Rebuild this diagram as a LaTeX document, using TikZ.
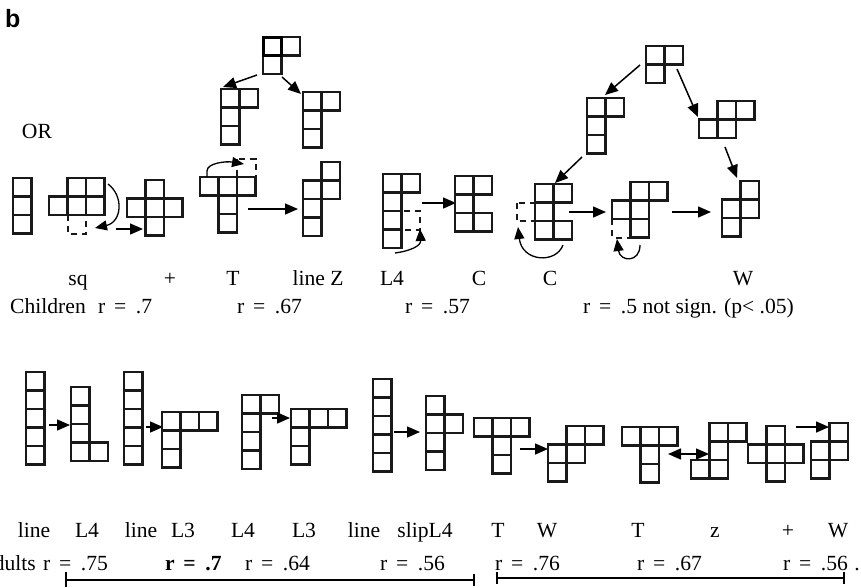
\documentclass[tikz,border=0pt]{standalone}
\usepackage{fontspec}
\setmainfont{Liberation Serif}
\newfontfamily\labfont{Liberation Sans}
\usetikzlibrary{arrows.meta}
\newcommand\poly[3]{\foreach \ci/\cj in {#3}{\draw[cell] ({#1+\ci*18.5},{#2+\cj*18.5}) rectangle ++(18.5,18.5);}}
\newcommand\dcell[2]{\draw[dsh] (#1,#2) rectangle ++(18.5,18.5);}
\newcommand\rv[1]{r\hspace{.4em}=\hspace{.45em}#1}
\begin{document}
\begin{tikzpicture}[x=1pt,y=-1pt,
  cell/.style={draw=black!90,line width=2.1pt},
  dsh/.style={draw=black!90,line width=2pt,dash pattern=on 6pt off 5pt},
  arr/.style={line width=1.5pt,-{Triangle[length=13pt,width=11pt]}},
  carr/.style={line width=1.3pt,-{Triangle[length=12pt,width=10pt]}},
  darr/.style={line width=1.5pt,{Triangle[length=13pt,width=11pt]}-{Triangle[length=13pt,width=11pt]}},
  br/.style={line width=2.4pt},
  lab/.style={font=\fontsize{21.6}{24}\selectfont,inner sep=0pt,anchor=base}]
\useasboundingbox (0,0) rectangle (861,587);
\fill[white] (0,0) rectangle (861,587);

% title
\node[font=\labfont\bfseries\fontsize{25}{28}\selectfont,inner sep=0pt,anchor=base west] (b) at (5,27.5) {b};
\node[lab] (or) at (37,138) {OR};

% ---------- top row ----------
\poly{13}{178}{0/0,0/1,0/2}
\poly{49}{178}{1/0,2/0,0/1,1/1,2/1}
\dcell{67.5}{215}
\draw[carr] (108,184) .. controls (124,196) and (122,222) .. (95,228);
\draw[arr] (116,229) -- (143,229);
\poly{127}{180}{1/0,0/1,1/1,2/1,1/2}

% T family
\poly{263}{37}{0/0,1/0,0/1}
\draw[line width=3pt] (263,37) rectangle ++(18.5,18.5);
\draw[arr] (257,75) -- (223,87);
\draw[arr] (282,77) -- (301,94);
\poly{221}{89}{0/0,1/0,0/1,0/2}
\poly{303}{92}{0/0,1/0,0/1,0/2}
\poly{200}{177}{0/0,1/0,2/0,1/1,1/2}
\dcell{237}{158.5}
\draw[carr] (207,177) -- (207,171) .. controls (207,163) and (226,161) .. (244,164);
\draw[arr] (248,209) -- (298,209);
\poly{303}{162}{1/0,0/1,1/1,0/2,0/3}

% L4 -> C
\poly{383}{174}{0/0,1/0,0/1,0/2,0/3}
\dcell{401.5}{211}
\draw[carr] (395,253) .. controls (410,251) and (421,246) .. (420,229);
\draw[arr] (422,203) -- (456,203);
\poly{455}{176}{0/0,1/0,0/1,0/2,1/2}

% W family
\poly{646}{46}{0/0,1/0,0/1}
\draw[arr] (640,65) -- (605,95);
\draw[arr] (677,69) -- (698,117);
\poly{587}{98}{0/0,1/0,0/1,0/2}
\poly{699}{101}{1/0,2/0,0/1,1/1}
\draw[arr] (582,157) -- (555,183);
\draw[arr] (725,147) -- (737,178);
\poly{535}{184}{0/0,1/0,0/1,0/2,1/2}
\dcell{516.5}{202.5}
\draw[carr] (563,245) .. controls (556,264) and (522,262) .. (518,227);
\draw[arr] (569,212) -- (606,212);
\poly{612}{182}{1/0,2/0,0/1,1/1,1/2}
\dcell{612}{219}
\draw[carr] (640,245) .. controls (640,263) and (620,262) .. (617,239);
\draw[arr] (672,212) -- (711,212);
\poly{722}{181}{1/0,0/1,1/1,0/2}

% top labels
\node[lab] (l1) at (78,285) {sq};
\node[lab] (l2) at (170,285) {+};
\node[lab] (l3) at (233,285) {T};
\node[lab] (l4) at (318,285) {line Z};
\node[lab] (l5) at (392,285) {L4};
\node[lab] (l6) at (479,285) {C};
\node[lab] (l7) at (550,285) {C};
\node[lab] (l8) at (743,285) {W};
\node[lab,anchor=base west] (c0) at (10,313) {Children};
\node[lab,anchor=base west] (c1) at (98,313) {\rv{.7}};
\node[lab,anchor=base west] (c2) at (237,313) {\rv{.67}};
\node[lab,anchor=base west] (c3) at (405,313) {\rv{.57}};
\node[lab,anchor=base west] (c4) at (583,313) {\rv{.5} not sign. (p< .05)};

% ---------- bottom row ----------
\poly{26}{372}{0/0,0/1,0/2,0/3,0/4}
\draw[arr] (49,425) -- (70,425);
\poly{71}{387}{0/0,0/1,0/2,0/3,1/3}
\poly{124}{372}{0/0,0/1,0/2,0/3,0/4}
\draw[arr] (146,427) -- (163,427);
\poly{162}{412}{0/0,1/0,2/0,0/1,0/2}
\poly{242}{395}{0/0,1/0,0/1,0/2,0/3}
\draw[arr] (272,418) -- (290,418);
\poly{291}{409}{0/0,1/0,2/0,0/1,0/2}
\poly{373}{379}{0/0,0/1,0/2,0/3,0/4}
\draw[arr] (394,432) -- (420,432);
\poly{426}{396}{0/0,0/1,1/1,0/2,0/3}
\poly{474}{418}{0/0,1/0,2/0,1/1,1/2}
\draw[arr] (520,449) -- (548,449);
\poly{548}{426}{1/0,2/0,0/1,1/1,0/2}
\poly{622}{427}{0/0,1/0,2/0,1/1,1/2}
\draw[darr] (668,454) -- (709,454);
\poly{691}{423}{1/0,2/0,1/1,0/2,1/2}
\poly{748}{426}{1/0,0/1,1/1,2/1,1/2}
\draw[arr] (796,427) -- (829,427);
\poly{811}{423}{1/0,0/1,1/1,0/2}

% bottom labels
\node[lab] (m1) at (34,537) {line};
\node[lab] (m2) at (87,537) {L4};
\node[lab] (m3) at (141,537) {line};
\node[lab] (m4) at (183,537) {L3};
\node[lab] (m5) at (243,537) {L4};
\node[lab] (m6) at (304,537) {L3};
\node[lab] (m7) at (364,537) {line};
\node[lab] (m8) at (425,537) {slipL4};
\node[lab] (m9) at (498,537) {T};
\node[lab] (m10) at (547,537) {W};
\node[lab] (m11) at (638,537) {T};
\node[lab] (m12) at (715,537) {z};
\node[lab] (m13) at (788,537) {+};
\node[lab] (m14) at (838,537) {W};
\node[lab,anchor=base east] (a0) at (36,570) {Adults};
\node[lab,anchor=base west] (a1) at (43,570) {\rv{.75}};
\node[lab,anchor=base west] (a2) at (165,570) {\bfseries\rv{.7}};
\node[lab,anchor=base west] (a3) at (245,570) {\rv{.64}};
\node[lab,anchor=base west] (a4) at (380,570) {\rv{.56}};
\node[lab,anchor=base west] (a5) at (495,570) {\rv{.76}};
\node[lab,anchor=base west] (a6) at (637,570) {\rv{.67}};
\node[lab,anchor=base west] (a7) at (783,570) {\rv{.56}\hspace{.3em}.};

% brackets
\coordinate (bl1) at (66,580); \coordinate (bl2) at (474,580);
\coordinate (br1) at (497,578); \coordinate (br2) at (844,578);
\draw[br] (bl1) -- (bl2);
\draw[br] ([yshift=-7pt]bl1) -- ([yshift=8pt]bl1);
\draw[br] ([yshift=-6pt]bl2) -- ([yshift=6pt]bl2);
\draw[br] (br1) -- (br2);
\draw[br] ([yshift=-6pt]br1) -- ([yshift=6pt]br1);
\draw[br] ([yshift=-6pt]br2) -- ([yshift=6pt]br2);
\end{tikzpicture}
\end{document}
